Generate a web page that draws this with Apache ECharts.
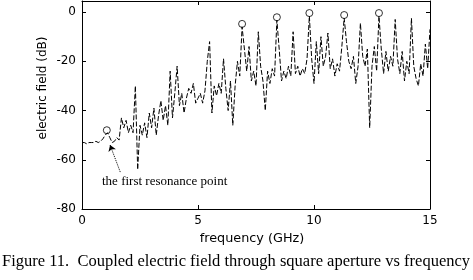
<!DOCTYPE html>
<html>
<head>
<meta charset="utf-8">
<script src="https://cdn.jsdelivr.net/npm/echarts@6/dist/echarts.min.js"></script>
<style>
html,body{margin:0;padding:0;background:#fff;}
#chart{width:473px;height:280px;}
</style>
</head>
<body>
<div id="chart"></div>
<script>
// frequency samples (GHz)
var freq = [0.0,0.1,0.2,0.3,0.4,0.5,0.6,0.7,0.8,0.9,
1.0,1.1,1.2,1.3,1.4,1.5,1.6,1.7,1.8,1.9,
2.0,2.1,2.2,2.3,2.4,2.5,2.6,2.7,2.8,2.9,
3.0,3.1,3.2,3.3,3.4,3.5,3.6,3.7,3.8,3.9,
4.0,4.1,4.2,4.3,4.4,4.5,4.6,4.7,4.8,4.9,
5.0,5.1,5.2,5.3,5.4,5.5,5.6,5.7,5.8,5.9,
6.0,6.1,6.2,6.3,6.4,6.5,6.6,6.7,6.8,6.9,
7.0,7.1,7.2,7.3,7.4,7.5,7.6,7.7,7.8,7.9,
8.0,8.1,8.2,8.3,8.4,8.5,8.6,8.7,8.8,8.9,
9.0,9.1,9.2,9.3,9.4,9.5,9.6,9.7,9.8,9.9,
10.0,10.1,10.2,10.3,10.4,10.5,10.6,10.7,10.8,10.9,
11.0,11.1,11.2,11.3,11.4,11.5,11.6,11.7,11.8,11.9,
12.0,12.1,12.2,12.3,12.4,12.5,12.6,12.7,12.8,12.9,
13.0,13.1,13.2,13.3,13.4,13.5,13.6,13.7,13.8,13.9,
14.0,14.1,14.2,14.3,14.4,14.5,14.6,14.7,14.8,14.9,
15.0];
// coupled electric field (dB)
var field = [-53,-53,-53.5,-53,-53,-53,-52.5,-53,-52.5,-51.5,
-50,-49,-51,-53,-52.5,-51,-52,-43,-47,-44,
-49,-46,-49,-30,-64,-46,-50,-45,-51,-41,
-47,-39,-50,-42,-36,-44,-38,-46,-24,-43,
-33,-22,-38,-33,-41,-35,-31,-33,-29,-37,
-35,-33,-37,-32,-20,-12,-41,-30,-34,-29,
-33,-19,-31,-40,-28,-46,-30,-20,-26,-6,
-15,-24,-14,-28,-24,-30,-8,-22,-28,-40,
-24,-29,-23,-26,-3.3,-15,-28,-24,-27,-22,
-26,-8,-25,-22,-26,-23,-25,-19,-1.6,-19,
-29,-12,-25,-10,-22,-18,-8.5,-23,-19,-26,
-21,-24,-14,-2.4,-12,-20,-23,-18,-29,-22,
-4.5,-18,-22,-15,-47,-22,-14,-24,-1.6,-15,
-25,-16,-24,-18,-22,-3,-19,-25,-16,-28,
-20,-25,-2.5,-22,-27,-30,-21,-26,-13,-23,
-7];
// marked resonance points
var resFreq = [1.07, 6.9, 8.4, 9.8, 11.3, 12.8];
var resField = [-48, -4.8, -2.1, -0.4, -1.2, -0.4];
var xTicks = [0, 5, 10, 15];
var yTicks = [-80, -60, -40, -20, 0];

var lineData = freq.map(function (f, i) { return [f, field[i]]; });
var resData = resFreq.map(function (f, i) { return [f, resField[i]]; });

var chart = echarts.init(document.getElementById('chart'), null, {renderer: 'canvas'});
var tickFont = {fontFamily: 'DejaVu Sans', fontSize: 12, color: '#000'};
var axisLineStyle = {show: true, onZero: false, lineStyle: {color: '#000', width: 1}};
var tickStyle = {show: true, inside: true, length: 4, lineStyle: {color: '#000'}};
chart.setOption({
  animation: false,
  backgroundColor: '#fff',
  grid: {left: 82, top: 1, width: 348, height: 208, show: false},
  xAxis: [{
    type: 'value', min: xTicks[0], max: xTicks[xTicks.length - 1], interval: 5,
    position: 'bottom',
    name: 'frequency (GHz)', nameLocation: 'middle', nameGap: 18,
    nameTextStyle: {fontFamily: 'DejaVu Sans', fontSize: 12.8, color: '#000', padding: [0, 8, 0, 0]},
    axisLine: axisLineStyle, axisTick: tickStyle,
    axisLabel: Object.assign({margin: 6}, tickFont),
    splitLine: {show: false}
  }, {
    type: 'value', min: xTicks[0], max: xTicks[xTicks.length - 1], interval: 5,
    position: 'top',
    axisLine: axisLineStyle, axisTick: tickStyle,
    axisLabel: {show: false}, splitLine: {show: false}
  }],
  yAxis: [{
    type: 'value', min: yTicks[0], max: 4.5, interval: 20,
    position: 'left',
    axisLine: axisLineStyle, axisTick: tickStyle,
    axisLabel: Object.assign({margin: 6, showMaxLabel: false, formatter: function (v) { return v > 0 ? '' : String(v); }}, tickFont),
    splitLine: {show: false}
  }, {
    type: 'value', min: yTicks[0], max: 4.5, interval: 20,
    position: 'right',
    axisLine: axisLineStyle, axisTick: tickStyle,
    axisLabel: {show: false}, splitLine: {show: false}
  }],
  series: [{
    type: 'line', data: lineData, xAxisIndex: 0, yAxisIndex: 0,
    showSymbol: false, symbol: 'none',
    lineStyle: {color: '#000', width: 1, type: [5, 2]},
    markLine: {
      silent: true, symbol: ['none', 'arrow'], symbolSize: 6,
      lineStyle: {type: 'dotted', color: '#000', width: 1},
      label: {show: false},
      data: [[{coord: [1.65, -65]}, {coord: [1.21, -54]}]]
    }
  }, {
    type: 'scatter', data: resData, xAxisIndex: 0, yAxisIndex: 0,
    symbol: 'circle', symbolSize: 7,
    itemStyle: {color: '#fff', borderColor: '#000', borderWidth: 1}
  }],
  graphic: [{
    type: 'text', left: 102, top: 175,
    style: {text: 'the first resonance point', fontFamily: 'Liberation Serif', fontSize: 13, fill: '#000'}
  }, {
    type: 'text', x: 43, y: 88, rotation: Math.PI / 2,
    style: {text: 'electric field (dB)', fontFamily: 'DejaVu Sans', fontSize: 12, fill: '#000', align: 'center', verticalAlign: 'middle'}
  }, {
    type: 'text', x: 236, y: 262,
    style: {text: 'Figure 11.  Coupled electric field through square aperture vs frequency', fontFamily: 'Liberation Serif', fontSize: 16.5, fill: '#000', align: 'center', verticalAlign: 'middle'}
  }]
});
</script>
</body>
</html>
